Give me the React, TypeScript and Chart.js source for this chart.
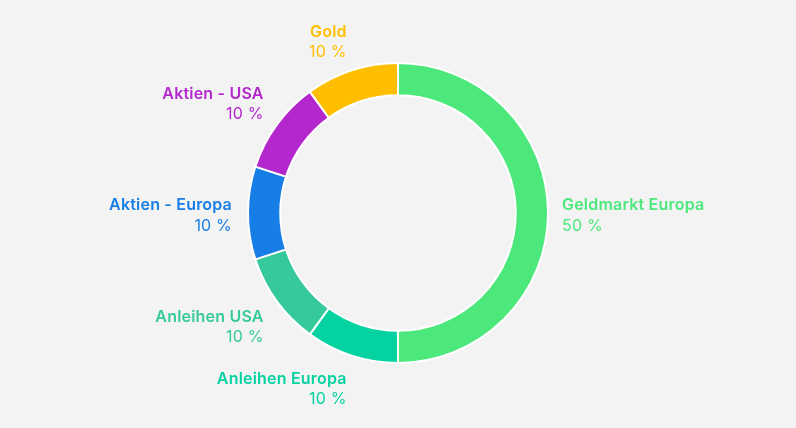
import React, { useEffect, useRef } from "react";
import { Chart, registerables } from "chart.js";

Chart.register(...registerables);

const categories = ["Geldmarkt Europa", "Anleihen Europa", "Anleihen USA", "Aktien - Europa", "Aktien - USA", "Gold"];
const values = [50, 10, 10, 10, 10, 10];
const colors = ["#4de87b", "#05d2a1", "#35c99b", "#167ee6", "#b327cc", "#ffbf00"];
const percentLabels = ["50 %", "10 %", "10 %", "10 %", "10 %", "10 %"];

const BG = "#f3f3f3";
const FONT = "Inter, 'Open Sans', sans-serif";

const outLabels = {
  id: "outLabels",
  afterDraw(chart: any) {
    const ctx = chart.ctx;
    const meta = chart.getDatasetMeta(0);
    meta.data.forEach((arc: any, i: number) => {
      const mid = (arc.startAngle + arc.endAngle) / 2;
      const cx = arc.x;
      const cy = arc.y + 2.5;
      const s = Math.cos(mid);
      const c = Math.sin(mid);
      const left = s < -0.01;
      const lx = cx + (left ? 166 : 164) * s;
      const sign = Math.abs(c) < 0.05 ? 0 : Math.sign(c);
      const ly = cy + 171 * c + 11 * sign;
      ctx.save();
      ctx.fillStyle = colors[i];
      ctx.textAlign = left ? "right" : "left";
      ctx.textBaseline = "middle";
      (ctx as any).letterSpacing = "0.2px";
      ctx.font = `600 16px ${FONT}`;
      ctx.fillText(categories[i], lx, ly - 10);
      ctx.font = `400 16px ${FONT}`;
      ctx.fillText(percentLabels[i], lx, ly + 10.5);
      ctx.restore();
    });
  },
};

export default function App() {
  const ref = useRef<HTMLCanvasElement>(null);
  useEffect(() => {
    document.body.style.margin = "0";
    document.body.style.background = BG;
    const chart = new Chart(ref.current!, {
      type: "doughnut",
      data: {
        labels: categories,
        datasets: [
          {
            data: values,
            backgroundColor: colors,
            borderColor: "#ffffff",
            borderWidth: 2,
            hoverOffset: 0,
          },
        ],
      },
      options: {
        animation: false,
        responsive: false,
        maintainAspectRatio: false,
        cutout: "78.5%",
        layout: { padding: { top: 62, bottom: 64, left: 0, right: 0 } },
        plugins: { legend: { display: false }, tooltip: { enabled: false } },
      },
      plugins: [outLabels],
    });
    return () => chart.destroy();
  }, []);
  return (
    <div style={{ width: 796, height: 428, background: BG }}>
      <canvas ref={ref} width={796} height={428} style={{ display: "block" }} />
    </div>
  );
}
